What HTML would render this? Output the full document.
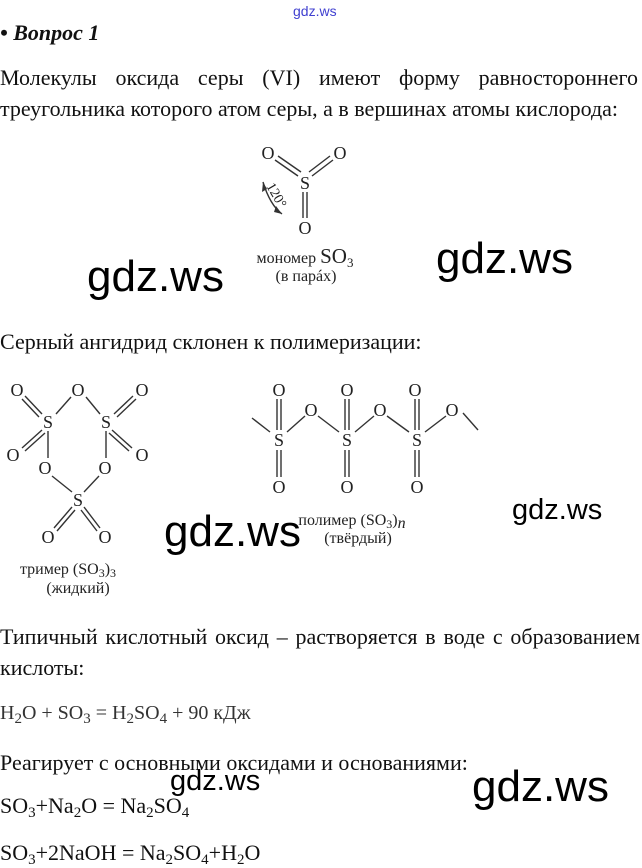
<!DOCTYPE html>
<html><head><meta charset="utf-8"><style>
body{margin:0;width:642px;height:868px;background:#fff;position:relative;overflow:hidden;font-family:"Liberation Serif",serif;color:#111}
.t{position:absolute;left:0;white-space:nowrap;font-size:22px;line-height:24px}
.w{position:absolute;font-family:"Liberation Sans",sans-serif;color:#000;white-space:nowrap;line-height:1}
sub{font-size:15px;vertical-align:-4px;line-height:0}
</style></head><body>
<div class="w" style="left:293px;top:4px;font-size:14px;color:#4040d0">gdz.ws</div>
<div class="t" style="top:21px;font-weight:bold;font-style:italic">• Вопрос 1</div>
<div class="t" style="top:66px;width:638px;text-align:justify;text-align-last:justify">Молекулы оксида серы (VI) имеют форму равностороннего</div>
<div class="t" style="top:97px">треугольника которого атом серы, а в вершинах атомы кислорода:</div>
<div class="t" style="top:330px">Серный ангидрид склонен к полимеризации:</div>
<div class="t" style="top:625px;width:640px;text-align:justify;text-align-last:justify">Типичный кислотный оксид – растворяется в воде с образованием</div>
<div class="t" style="top:656px">кислоты:</div>
<div class="t" style="top:701px;font-size:20px;color:#333">H<sub>2</sub>O + SO<sub>3</sub> = H<sub>2</sub>SO<sub>4</sub> + 90 кДж</div>
<div class="t" style="top:751px">Реагирует с основными оксидами и основаниями:</div>
<div class="t" style="top:794px">SO<sub>3</sub>+Na<sub>2</sub>O = Na<sub>2</sub>SO<sub>4</sub></div>
<div class="t" style="top:841px">SO<sub>3</sub>+2NaOH = Na<sub>2</sub>SO<sub>4</sub>+H<sub>2</sub>O</div>

<svg width="642" height="868" style="position:absolute;left:0;top:0" font-family="Liberation Serif,serif" fill="#222">
<g stroke="#333" stroke-width="1.4" fill="none">
<line x1="275" y1="160" x2="298" y2="176"/><line x1="278" y1="156" x2="301" y2="172"/>
<line x1="333" y1="160" x2="312" y2="176"/><line x1="330" y1="156" x2="309" y2="172"/>
<line x1="303" y1="192" x2="303" y2="218"/><line x1="307" y1="192" x2="307" y2="218"/>
<path d="M263 182 Q270 205 282 214"/>
<line x1="25" y1="396" x2="42" y2="414"/><line x1="22" y1="399" x2="39" y2="417"/>
<line x1="56" y1="414" x2="71" y2="397"/>
<line x1="86" y1="397" x2="100" y2="414"/>
<line x1="133" y1="396" x2="114" y2="414"/><line x1="136" y1="399" x2="117" y2="417"/>
<line x1="42" y1="430" x2="22" y2="448"/><line x1="45" y1="433" x2="25" y2="451"/>
<line x1="112" y1="430" x2="132" y2="448"/><line x1="109" y1="433" x2="129" y2="451"/>
<line x1="48" y1="431" x2="48" y2="458"/><line x1="106" y1="431" x2="106" y2="458"/>
<line x1="52" y1="476" x2="72" y2="492"/><line x1="99" y1="476" x2="84" y2="492"/>
<line x1="72" y1="507" x2="54" y2="528"/><line x1="75" y1="510" x2="57" y2="531"/>
<line x1="84" y1="507" x2="100" y2="528"/><line x1="81" y1="510" x2="97" y2="531"/>
<line x1="252" y1="418" x2="270" y2="432"/><line x1="463" y1="413" x2="478" y2="430"/>
<line x1="287" y1="432" x2="305" y2="416"/><line x1="318" y1="416" x2="339" y2="432"/>
<line x1="355" y1="432" x2="374" y2="416"/><line x1="387" y1="416" x2="409" y2="432"/>
<line x1="425" y1="432" x2="446" y2="416"/>
<line x1="277" y1="399" x2="277" y2="430"/><line x1="281" y1="399" x2="281" y2="430"/>
<line x1="277" y1="450" x2="277" y2="477"/><line x1="281" y1="450" x2="281" y2="477"/>
<line x1="345" y1="399" x2="345" y2="430"/><line x1="349" y1="399" x2="349" y2="430"/>
<line x1="345" y1="450" x2="345" y2="477"/><line x1="349" y1="450" x2="349" y2="477"/>
<line x1="415" y1="399" x2="415" y2="430"/><line x1="419" y1="399" x2="419" y2="430"/>
<line x1="415" y1="450" x2="415" y2="477"/><line x1="419" y1="450" x2="419" y2="477"/>
</g>
<polygon points="282,214 276,206 274,212" fill="#333"/>
<polygon points="263,182 262,192 267,189" fill="#333"/>
<g font-size="18" text-anchor="middle">
<text x="268" y="159">O</text><text x="340" y="159">O</text><text x="305" y="189">S</text><text x="305" y="234">O</text>
<text x="17" y="396">O</text><text x="78" y="396">O</text><text x="142" y="396">O</text>
<text x="48" y="428">S</text><text x="106" y="428">S</text>
<text x="13" y="461">O</text><text x="45" y="474">O</text><text x="105" y="474">O</text><text x="142" y="461">O</text>
<text x="78" y="506">S</text><text x="48" y="543">O</text><text x="105" y="543">O</text>
<text x="279" y="396">O</text><text x="347" y="396">O</text><text x="415" y="396">O</text>
<text x="311" y="416">O</text><text x="380" y="416">O</text><text x="452" y="416">O</text>
<text x="279" y="446">S</text><text x="347" y="446">S</text><text x="417" y="446">S</text>
<text x="279" y="493">O</text><text x="347" y="493">O</text><text x="417" y="493">O</text>
</g>
<text x="266" y="194" font-size="14" transform="rotate(60 273 190)">120°</text>
<g font-size="16" text-anchor="middle">
<text x="305" y="263">мономер <tspan font-size="21">SO</tspan><tspan font-size="13" dy="4">3</tspan></text>
<text x="306" y="281">(в парáх)</text>
<text x="68" y="574">тример (SO<tspan font-size="12" dy="3">3</tspan><tspan dy="-3">)</tspan><tspan font-size="12" dy="3">3</tspan></text>
<text x="78" y="593">(жидкий)</text>
<text x="352" y="525">полимер (SO<tspan font-size="12" dy="3">3</tspan><tspan dy="-3">)</tspan><tspan font-style="italic" dy="3">n</tspan></text>
<text x="358" y="543">(твёрдый)</text>
</g>
</svg>

<div class="w" style="left:87px;top:255px;font-size:44px">gdz.ws</div>
<div class="w" style="left:436px;top:237px;font-size:44px">gdz.ws</div>
<div class="w" style="left:164px;top:510px;font-size:44px">gdz.ws</div>
<div class="w" style="left:512px;top:496px;font-size:29px">gdz.ws</div>
<div class="w" style="left:170px;top:767px;font-size:29px">gdz.ws</div>
<div class="w" style="left:472px;top:765px;font-size:44px">gdz.ws</div>
</body></html>
